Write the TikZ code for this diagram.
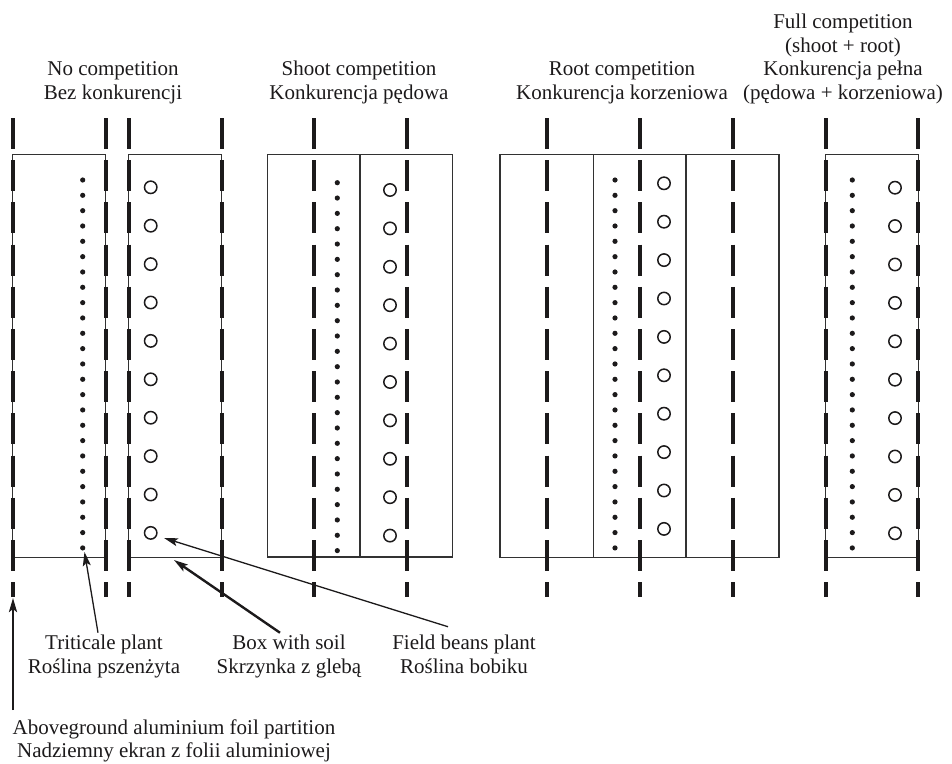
\documentclass[tikz,border=0pt]{standalone}
\usepackage{fontspec}
\setmainfont{Liberation Serif}
\usetikzlibrary{arrows.meta,positioning}
\definecolor{inkblack}{RGB}{28,26,27}
\definecolor{boxgray} {RGB}{50,50,50}
\tikzset{
  foil/.style={line width=4pt,color=inkblack,dash pattern=on 31pt off 11.2pt},
  soilbox/.style={draw=boxgray,line width=1.3pt},
  ttl/.style={align=center,anchor=base,inner sep=2pt,text=inkblack,
              font=\fontsize{21}{23.5}\selectfont},
  arr/.style={-{Stealth[length=14pt,width=8pt,inset=3pt]},line width=1.3pt,color=inkblack},
  arrthick/.style={arr,line width=2.4pt},
}

\begin{document}
\begin{tikzpicture}[x=1pt,y=-1pt]
  \useasboundingbox (0,0) rectangle (952,763);

  % soil boxes
  \draw[soilbox] (12.5,154.5) rectangle (105.5,557.5);
  \draw[soilbox] (128.5,154.5) rectangle (221.5,557.5);
  \draw[soilbox] (267.7,154.5) rectangle (452.7,557);
  \draw[soilbox] (360,154.5) -- (360,557);
  \draw[soilbox] (500,154.5) rectangle (779,557.5);
  \draw[soilbox] (593.3,154.5) -- (593.3,557.5);
  \draw[soilbox] (686,154.5) -- (686,557.5);
  \draw[soilbox] (825.5,154.5) rectangle (918.3,557.5);

  % foil partitions
  \foreach \x in {12.5,105.5,128.5,221.5,314.3,407.3,546.7,639.5,733,825.5,918.3}
    \draw[foil] (\x,118) -- (\x,597);

  % triticale rows
  \foreach \x/\y in {82.7/180,337.3/182.7,615/180,852.3/180}
    \foreach \i in {0,...,24}
      \fill[inkblack] (\x,\y+15.33*\i) circle (2.6pt);

  % field beans rows
  \foreach \x/\y in {150.7/187.3,390/190,664/183.3,895/187.7}
    \foreach \i in {0,...,9}
      \draw[inkblack,line width=1.5pt] (\x,\y+38.4*\i) circle (6.2pt);

  % treatments (base = last line)
  \node[ttl] (nocomp)    at (113,99) {No competition\\Bez konkurencji};
  \node[ttl] (shootcomp) at (359,99) {Shoot competition\\Konkurencja pędowa};
  \node[ttl] (rootcomp)  at (622,99) {Root competition\\Konkurencja korzeniowa};
  \node[ttl] (fullcomp)  at (843,99) {Full competition\\(shoot + root)\\Konkurencja pełna\\(pędowa + korzeniowa)};

  % legend
  \node[ttl] (tritlbl) at (104,673) {Triticale plant\\Roślina pszenżyta};
  \node[ttl] (boxlbl)  at (289,673) {Box with soil\\Skrzynka z glebą};
  \node[ttl] (beanlbl) at (464,673) {Field beans plant\\Roślina bobiku};
  \node[ttl] (foillbl) at (174,757.5) {Aboveground aluminium foil partition\\Nadziemny ekran z folii aluminiowej};

  \coordinate (tritend) at (84.5,552);
  \coordinate (boxend)  at (174,560);
  \coordinate (beanend) at (164,538);
  \coordinate (foilend) at (13,598);

  \draw[arr] ([xshift=-6pt]tritlbl.north) -- (tritend);
  \draw[arrthick] ([xshift=-9pt]boxlbl.north) -- (boxend);
  \draw[arr] ([xshift=-16pt,yshift=6pt]beanlbl.north) -- (beanend);
  \draw[arrthick,shorten <=7pt] (foillbl.north -| foilend) -- (foilend);
\end{tikzpicture}
\end{document}
